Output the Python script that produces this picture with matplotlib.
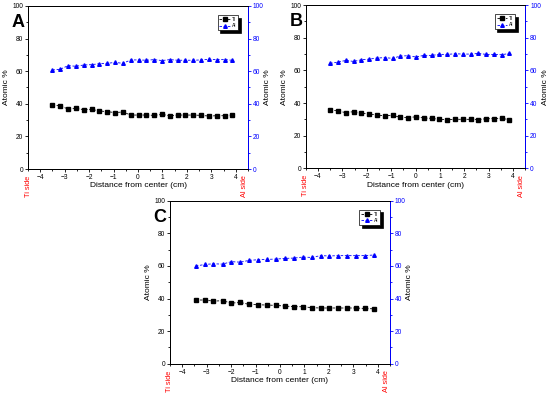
import matplotlib

matplotlib.use("Agg")

import matplotlib.pyplot as plt
from matplotlib.ticker import MultipleLocator

plt.rcParams["font.family"] = ["Liberation Sans", "DejaVu Sans"]

# distance from center (cm)
x_ab = [-3.50, -3.18, -2.86, -2.54, -2.22, -1.90, -1.58, -1.26, -0.94, -0.62, -0.30, 0.02,
        0.34, 0.66, 0.98, 1.30, 1.62, 1.94, 2.26, 2.58, 2.90, 3.22, 3.54, 3.84]
x_c = [-3.44, -3.08, -2.72, -2.35, -1.99, -1.62, -1.26, -0.89, -0.53, -0.16, 0.20, 0.57,
       0.93, 1.30, 1.66, 2.02, 2.38, 2.74, 3.11, 3.47, 3.84]

ti_a = [39.3, 38.7, 36.8, 37.2, 36.4, 36.6, 35.6, 35.2, 34.6, 35.0, 33.1, 33.1,
        33.1, 32.9, 33.5, 32.7, 33.1, 33.1, 33.1, 32.9, 32.5, 32.7, 32.7, 33.1]
al_a = [60.7, 61.2, 63.4, 63.0, 63.8, 64.0, 64.6, 64.8, 65.4, 64.8, 66.9, 66.9,
        66.7, 67.1, 66.5, 67.1, 66.7, 66.7, 66.7, 66.9, 67.3, 67.1, 67.1, 66.7]

ti_b = [35.9, 35.1, 34.1, 34.7, 33.7, 33.3, 32.6, 32.2, 32.4, 31.2, 31.0, 31.6,
        30.8, 30.6, 30.0, 29.8, 30.0, 30.0, 30.0, 29.8, 30.4, 30.4, 30.6, 29.8]
al_b = [64.3, 65.1, 66.1, 65.5, 66.5, 66.9, 67.6, 67.8, 67.4, 68.8, 69.0, 68.2,
        69.2, 69.2, 69.8, 69.8, 70.2, 70.0, 70.0, 70.4, 69.8, 69.8, 69.6, 70.4]

ti_c = [39.1, 39.1, 38.4, 38.7, 37.2, 37.6, 36.4, 36.2, 36.0, 35.8, 35.4, 35.0,
        35.0, 34.4, 34.2, 34.2, 34.2, 34.2, 34.2, 33.9, 33.7]
al_c = [59.9, 60.9, 61.3, 61.1, 62.6, 62.3, 63.4, 63.8, 64.0, 64.2, 64.6, 64.8,
        65.4, 65.2, 66.3, 66.1, 66.3, 66.3, 66.3, 66.3, 66.7]

panels = [
    ("A", [0.051, 0.572, 0.400, 0.413], x_ab, ti_a, al_a),
    ("B", [0.556, 0.574, 0.399, 0.413], x_ab, ti_b, al_b),
    ("C", [0.309, 0.079, 0.400, 0.413], x_c, ti_c, al_c),
]

BLUE = "#0000ff"
fig = plt.figure(figsize=(5.5, 3.95), dpi=100)

for letter, rect, x, ti, al in panels:
    ax = fig.add_axes(rect)
    ax2 = ax.twinx()
    l1, = ax.plot(x, ti, ls=(0, (3, 2)), lw=0.6, color="black", marker="s", ms=2.3, label="Ti")
    l2, = ax2.plot(x, al, ls=(0, (3, 2)), lw=0.6, color=BLUE, marker="^", ms=2.6, label="Al")
    ax.set_xlim(-4.5, 4.5)
    ax.set_ylim(0, 100)
    ax2.set_ylim(0, 100)
    ax.xaxis.set_major_locator(MultipleLocator(1))
    ax.xaxis.set_minor_locator(MultipleLocator(0.5))
    for a in (ax, ax2):
        a.yaxis.set_major_locator(MultipleLocator(20))
        a.yaxis.set_minor_locator(MultipleLocator(10))
    ax.tick_params(which="both", labelsize=4.8, width=0.6, pad=1)
    ax.tick_params(which="major", length=2.5)
    ax.tick_params(which="minor", length=1.5)
    ax2.tick_params(which="both", labelsize=4.8, width=0.6, pad=1, colors=BLUE)
    ax2.tick_params(which="major", length=2.5)
    ax2.tick_params(which="minor", length=1.5)
    for sp in ax.spines.values():
        sp.set_linewidth(0.7)
    for sp in ax2.spines.values():
        sp.set_linewidth(0.7)
    ax2.spines["right"].set_color(BLUE)
    ax.set_xlabel("Distance from center (cm)", fontsize=6, labelpad=1)
    ax.set_ylabel("Atomic %", fontsize=6, labelpad=1.5)
    ax2.set_ylabel("Atomic %", fontsize=6, labelpad=0.5, color="black")
    ax.text(0.0, -0.04, "Ti side", rotation=90, fontsize=5.3, color="red",
            ha="center", va="top", transform=ax.transAxes)
    ax.text(0.985, -0.04, "Al side", rotation=90, fontsize=5.3, color="red",
            ha="center", va="top", transform=ax.transAxes)
    ax.text(-0.045, 0.95, letter, fontsize=13, fontweight="bold",
            ha="center", va="top", transform=ax.transAxes)
    leg = ax2.legend([l1, l2], ["Ti", "Al"], loc="upper right", fontsize=3.5,
                     frameon=True, fancybox=False,
                     shadow={"color": "black", "alpha": 1.0},
                     handlelength=2.2, borderpad=0.4, labelspacing=0.3,
                     handletextpad=0.3, bbox_to_anchor=(0.965, 0.96))
    leg.get_frame().set_edgecolor("black")
    leg.get_frame().set_linewidth(0.5)

fig.savefig("out.png", dpi=100)
